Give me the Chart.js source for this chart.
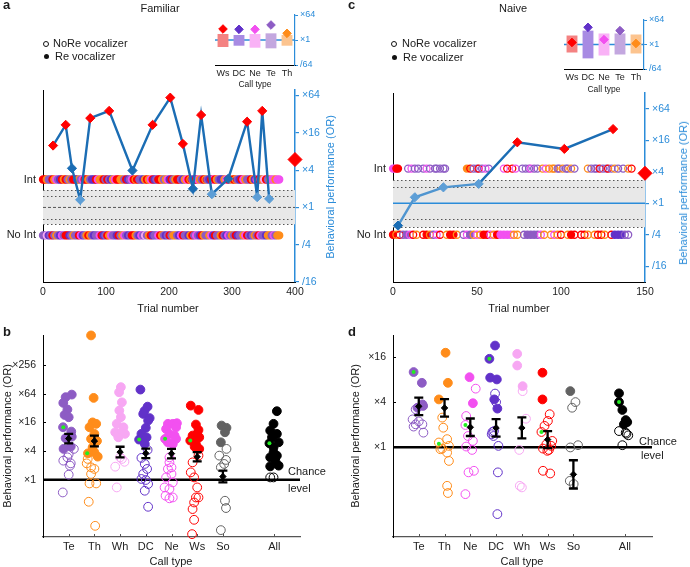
<!DOCTYPE html>
<html><head><meta charset="utf-8">
<script src="https://cdn.jsdelivr.net/npm/chart.js@4"></script>
<style>
body{margin:0;width:690px;height:567px;position:relative;background:#fff;font-family:"Liberation Sans",Arial,Helvetica,sans-serif;color:#1a1a1a;overflow:hidden}
canvas{position:absolute}
.t{position:absolute;white-space:nowrap;font-size:11px;line-height:12px}
.c{transform:translateX(-50%)}
.v{transform:translate(-50%,-50%) rotate(-90deg)}
.L{font-weight:bold;font-size:13px}
.blue{color:#2b8cd9}
.ho{position:absolute;width:4px;height:4px;border:1.2px solid #111;border-radius:50%}
.fi{position:absolute;width:5px;height:5px;background:#111;border-radius:50%}
</style></head><body>
<canvas id="ca" width="345" height="320" style="left:0;top:0"></canvas>
<canvas id="cc" width="345" height="320" style="left:345px;top:0"></canvas>
<canvas id="ia" width="140" height="80" style="left:200px;top:5px"></canvas>
<canvas id="ic" width="140" height="79" style="left:550px;top:10px"></canvas>
<canvas id="cb" width="345" height="247" style="left:0;top:320px"></canvas>
<canvas id="cd" width="345" height="247" style="left:345px;top:320px"></canvas>

<div class="t L" style="left:3px;top:-1px">a</div>
<div class="t c" style="left:160px;top:2px">Familiar</div>
<div class="ho" style="left:43px;top:41px"></div><div class="t" style="left:53px;top:37px">NoRe vocalizer</div>
<div class="fi" style="left:44px;top:54px"></div><div class="t" style="left:55px;top:50px">Re vocalizer</div>
<div class="t c" style="left:255px;top:78px;font-size:8.5px">Call type</div>
<div class="t v blue" style="left:330px;top:187px">Behavioral performance (OR)</div>
<div class="t c" style="left:168px;top:302px">Trial number</div>

<div class="t L" style="left:348px;top:-1px">c</div>
<div class="t c" style="left:513px;top:2px">Naive</div>
<div class="ho" style="left:391px;top:41px"></div><div class="t" style="left:402px;top:37px">NoRe vocalizer</div>
<div class="fi" style="left:392px;top:55px"></div><div class="t" style="left:403px;top:51px">Re vocalizer</div>
<div class="t c" style="left:604px;top:83px;font-size:8.5px">Call type</div>
<div class="t v blue" style="left:683px;top:193px">Behavioral performance (OR)</div>
<div class="t c" style="left:519px;top:302px">Trial number</div>

<div class="t L" style="left:3px;top:326px">b</div>
<div class="t v" style="left:7px;top:436px">Behavioral performance (OR)</div>
<div class="t c" style="left:171px;top:555px">Call type</div>
<div class="t" style="left:288px;top:465px">Chance</div>
<div class="t" style="left:288px;top:482px">level</div>

<div class="t L" style="left:348px;top:326px">d</div>
<div class="t v" style="left:355px;top:436px">Behavioral performance (OR)</div>
<div class="t c" style="left:522px;top:555px">Call type</div>
<div class="t" style="left:639px;top:435px">Chance</div>
<div class="t" style="left:641px;top:449px">level</div>

<script>
// ---------------- DATA ----------------
// Panel a (Familiar): performance (log2 OR) over trials
const aTrials = [16, 36, 46, 59, 75, 105, 142, 174, 202, 222, 238, 251, 268, 294, 324, 340, 348, 359];
const aLogOR  = [3.32, 4.43, 2.1, 0.41, 4.79, 5.18, 1.98, 4.43, 5.89, 3.41, 1.0, 4.96, 0.71, 1.54, 4.6, 0.55, 5.18, 0.46];
const aSig    = ['r','r','b','l','r','r','b','r','r','r','b','r','l','b','r','l','r','l'];
const aFinalLogOR = 2.57;
const aXTicks = [0, 100, 200, 300, 400];
// trial rows: one char per 3 trials; letter = call type colour, upper = Re (filled), lower = NoRe (open)
const aIntDots   = "RROPPROMPDRORPOPRRDOPMRROPDDRMOORPRPDOMRROOPRDPMRoRPPDOROMRDPRROPOMDRPORRPDOMRoPDRMOPRoPDRMROPDDOMRPORoPDRMOPPRODMRPOWRPOMMOMM";
const aNoIntDots = "PPWDPRPOPDMPRRDPOPPRMDPOROPDPPMRDPROMPPDRPOMPDPRROPDMPWPORDPPMROPDPRPOOPDMRPPDORPMPDROPPOMDRPPORPDMPOPRDPPOMRPDPOPRMPPDOOPMPOO";
const aDotStep = 3;

// Panel c (Naive)
const cTrials = [3, 13, 30, 51, 74, 102, 131];
const cLogOR  = [-1.42, 0.38, 1.01, 1.23, 3.87, 3.45, 4.71];
const cSig    = ['b','l','l','l','r','r','r'];
const cFinalLogOR = 1.9;
const cXTicks = [0, 50, 100, 150];
const cIntDots = ["MMRR","     ","p m p"," ","p  p m p  pp p pp","            ","O r p pr p m p ","       ","m r  r m","   ","p p pm p p","  ","o m o oo p","p o pp o p ","      ","o p pp r p pr p o p  p","  ","o r"].join('');
const cIntStep = 1;
const cNoIntDots = "RorpPmro rRopmr oRRo pmPomoRrmoRMMMmoo pPPPpmo omor oRr rro orro rDDDpp ";
const cNoIntStep = 2;

const orTicks = [-4, -2, 0, 2, 4, 6];

// Insets: per call type summary (log2 OR)
const insetCalls = ['Ws','DC','Ne','Te','Th'];
const aInsetLow  = [-1.68, -1.37, -1.85, -2.0, -1.37];
const aInsetHigh = [1.44, 1.2, 1.44, 1.6, 1.2];
const aInsetMid  = [2.64, 2.56, 2.56, 3.6, 1.6];
const cInsetLow  = [-1.96, -3.4, -2.7, -2.45, -2.2];
const cInsetHigh = [2.2, 3.4, 2.7, 2.7, 2.45];
const cInsetMid  = [0.5, 4.2, 1.2, 3.4, 0.25];
const insetTicks = [-6, 0, 6];

// Panel b (Familiar, per call type): [offset within column, log2 OR]
const bCalls = ['Te','Th','Wh','DC','Ne','Ws','So','All'];
const bSlots = [0, 1, 2, 3, 4, 5, 6, 8];
const bTicks = [0, 2, 4, 6, 8];
const bFilled = [
 [[0.12,5.94],[-0.12,5.76],[-0.21,5.36],[-0.05,4.9],[-0.16,4.52],[0,4.36],[-0.22,3.66],[0.1,3.36],[0.12,3.0],[-0.12,2.9],[0.08,2.31],[-0.2,2.15]],
 [[-0.13,10.07],[-0.03,5.71],[-0.07,4.0],[0.07,3.9],[-0.19,3.66],[0,3.2],[-0.13,2.85],[0.1,2.7],[-0.07,2.26],[0,1.91],[-0.25,1.84],[0.13,1.61]],
 [[0.03,6.46],[-0.04,6.1],[0.07,5.4],[-0.03,4.83],[0.03,4.36],[-0.13,3.9],[0.13,3.66],[-0.19,3.31],[0.05,3.3],[0.19,3.2],[-0.07,2.96]],
 [[-0.21,6.29],[0.07,5.1],[-0.05,4.8],[-0.1,4.59],[0.15,4.3],[0.09,4.13],[0,3.62],[-0.17,3.2],[0.03,2.96],[-0.26,2.8],[-0.04,2.5]],
 [[-0.14,3.9],[0.05,3.9],[0.21,3.94],[0.18,3.66],[-0.21,3.54],[-0.08,3.2],[0.12,3.08],[-0.25,2.85],[0.18,2.85],[-0.14,2.61],[0.05,2.49]],
 [[-0.25,5.17],[0.05,4.87],[-0.05,3.85],[0.05,3.47],[0,3.2],[-0.18,3.08],[0.08,2.96],[-0.27,2.73],[-0.05,2.5],[-0.1,2.3],[0.08,2.15]],
 [[-0.05,3.78],[0.14,3.62],[0.08,3.31],[-0.08,2.61]],
 [[0.1,4.78],[-0.03,3.9],[-0.16,3.43],[0.1,3.2],[-0.09,2.96],[0.17,2.61],[-0.19,2.54],[-0.03,2.26],[-0.03,1.91],[0.1,1.68],[-0.16,1.56],[0.04,1.33],[0.17,0.98],[-0.16,0.93]]
];
const bHollow = [
 [[0,1.8],[0.2,2.15],[-0.05,1.56],[-0.21,1.33],[0.08,1.14],[0.05,0.98],[0,0.35],[-0.23,-0.89]],
 [[-0.26,1.45],[-0.3,1.14],[-0.13,0.86],[0,0.75],[-0.13,0.4],[-0.19,-0.26],[0.07,-0.26],[-0.22,-1.54],[0.03,-3.22]],
 [[0,1.56],[0.07,1.45],[0.17,1.25],[-0.19,0.91],[-0.13,-0.54]],
 [[0.07,2.08],[-0.17,1.52],[-0.04,1.1],[0.05,0.75],[-0.1,0.4],[-0.17,0.05],[0,-0.02],[0.09,-0.3],[-0.04,-0.77],[0.09,-1.89]],
 [[-0.08,1.56],[-0.08,1.21],[0,0.86],[-0.14,0.75],[0,0.4],[-0.21,0.16],[0.05,-0.19],[-0.27,-0.54],[-0.08,-0.65],[-0.23,-1.12],[0.05,-1.24],[-0.08,-1.3]],
 [[0.05,1.68],[-0.18,1.21],[-0.25,0.51],[-0.12,0.16],[0,-0.54],[-0.05,-1.24],[0.05,-1.24],[-0.12,-1.59],[-0.18,-2.05],[-0.12,-2.8],[-0.2,-3.8]],
 [[0.14,2.15],[-0.14,1.68],[0.12,1.38],[0.05,1.1],[-0.08,0.86],[0.08,-1.47],[0.12,-1.98],[-0.08,-3.52]],
 [[-0.16,0.16],[-0.03,0.16]]
];
const bGreen = [[-0.21,3.66],[-0.28,1.84],null,[-0.26,2.8],[-0.25,2.85],[-0.27,2.73],null,[-0.19,2.54]];
const bMean  = [2.87, 2.7, 1.93, 1.84, 1.82, 1.6, 0.22, null];
const bErr   = [0.33, 0.37, 0.37, 0.33, 0.33, 0.32, 0.41, null];

// Panel d (Naive, per call type)
const dCalls = ['Te','Th','Ne','DC','Wh','Ws','So','All'];
const dSlots = [0, 1, 2, 3, 4, 5, 6, 8];
const dTicks = [0, 2, 4];
const dFilled = [
 [[-0.2,3.35],[0.12,2.87],[0.14,1.91],[0.17,1.84],[-0.05,1.76]],
 [[0.04,4.21],[0.13,2.87],[-0.22,2.13]],
 [[-0.03,3.12],[0.1,1.96]],
 [[-0.04,4.53],[-0.26,3.94],[-0.23,3.1],[0.03,3.02],[-0.07,2.13],[0.05,1.72]],
 [[-0.18,4.16],[-0.18,3.64],[0.03,2.72]],
 [[-0.2,3.32],[-0.2,2.13]],
 [[-0.12,2.5]],
 [[-0.23,2.4],[-0.23,2.01],[-0.1,1.66],[0.03,1.21],[0.09,1.12],[-0.04,1.02]]
];
const dHollow = [
 [[-0.12,1.69],[0,1.15],[-0.24,1.24],[-0.12,1.02],[0.14,1.02],[-0.2,0.92],[0.18,0.65]],
 [[-0.09,1.32],[-0.05,0.87],[0.1,0.36],[-0.22,0.21],[0.17,0.06],[-0.09,-0.06],[-0.16,-0.09],[0.1,-0.24],[0.17,-0.61],[0.1,-1.72],[0.13,-2.04]],
 [[0.21,2.61],[-0.16,1.39],[-0.19,0.99],[-0.09,0.5],[0.1,0.28],[-0.16,0.03],[0.07,-0.12],[0.14,-1.05],[-0.07,-1.12],[-0.19,-2.09]],
 [[-0.04,2.39],[0,2.01],[-0.08,0.72],[-0.14,0.68],[-0.17,0.58],[-0.1,0.5],[0.09,0.06],[0.07,-1.12],[0.05,-2.98]],
 [[0.03,2.5],[0.16,1.27],[-0.1,-0.12],[-0.08,-1.72],[0,-1.79]],
 [[0.08,1.47],[0.01,1.17],[-0.12,0.95],[-0.24,0.68],[0.18,0.28],[-0.05,0.13],[0.14,0.06],[-0.18,-0.06],[0.05,-0.12],[-0.01,-0.16],[-0.18,-1.05],[0.1,-1.17]],
 [[0.08,2.01],[-0.05,1.76],[0.18,0.09],[-0.12,-0.01],[-0.14,-1.5],[0.01,-1.64]],
 [[-0.23,0.72],[0.03,0.65],[0.13,0.53],[0.06,0.6],[-0.1,0.09]]
];
const dGreen = [[-0.2,3.35],[-0.22,0.16],[-0.19,0.99],[-0.26,3.94],null,[-0.24,0.68],null,[-0.23,2.01]];
const dMean  = [1.82, 1.75, 0.89, 0.86, 0.86, 0.34, -1.21, null];
const dErr   = [0.39, 0.39, 0.39, 0.39, 0.47, 0.38, 0.63, null];

// ---------------- STYLE ----------------
const FONT = '"Liberation Sans", Arial, Helvetica, sans-serif';
const callColors = {r:'#ff0000', o:'#ff8c1a', p:'#8d5cc4', d:'#6131c9', m:'#f250f0', w:'#f7a7f3', s:'#626262', k:'#000000'};
const callCode = {Te:'p', Th:'o', Wh:'w', DC:'d', Ne:'m', Ws:'r', So:'s', All:'k'};
const insetBarColors = {Ws:'#f48282', DC:'#a88be3', Ne:'#f9b2f6', Te:'#c3a7df', Th:'#fcc48f'};
const sigColor = {r:'#ff0000', b:'#1b6db4', l:'#5d9ed6'};
const DARK = '#1b6db4', LIGHT = '#4f95d0', BLUE = '#2b8cd9';
const CLEAR = 'rgba(255,255,255,0)';

Chart.defaults.font.family = FONT;
Chart.defaults.animation = false;
Chart.defaults.responsive = false;
Chart.defaults.events = [];
Chart.defaults.plugins.legend.display = false;
Chart.defaults.plugins.tooltip.enabled = false;

const fmtOR = v => v >= 0 ? '×' + Math.round(Math.pow(2, v)) : '/' + Math.round(Math.pow(2, -v));
const setTicks = vals => s => { s.ticks = vals.map(v => ({value: v})); };

function hlinePlugin(axis, value, color, width, dash){
  return {id:'hl'+Math.random().toString(36).slice(2), beforeDatasetsDraw(ch){
    const {ctx, chartArea:a} = ch; const y = ch.scales[axis].getPixelForValue(value);
    ctx.save(); ctx.strokeStyle = color; ctx.lineWidth = width; ctx.setLineDash(dash || []);
    ctx.beginPath(); ctx.moveTo(a.left, y); ctx.lineTo(a.right, y); ctx.stroke(); ctx.restore();
  }};
}

// small inward tick marks on the left and bottom axes
const inTicksPlugin = {id:'inticks', afterDraw(ch){
  const {ctx, chartArea:a} = ch, X = ch.scales.x, Y = ch.scales.y;
  ctx.save(); ctx.lineWidth = 1;
  ctx.strokeStyle = '#000';
  Y.ticks.forEach(t => { const y = Math.round(Y.getPixelForValue(t.value)) + 0.5; ctx.beginPath(); ctx.moveTo(a.left, y); ctx.lineTo(a.left + 3, y); ctx.stroke(); });
  ctx.strokeStyle = '#555';
  X.ticks.forEach(t => { const x = Math.round(X.getPixelForValue(t.value)) + 0.5; ctx.beginPath(); ctx.moveTo(x, a.bottom); ctx.lineTo(x, a.bottom - 3); ctx.stroke(); });
  ctx.restore(); }};

function bandPlugin(fill, dotted){
  return {id:'band'+Math.random().toString(36).slice(2), beforeDatasetsDraw(ch){
    const {ctx, chartArea:a} = ch; const y = ch.scales.yr;
    const y1 = y.getPixelForValue(fill[1]), y0 = y.getPixelForValue(fill[0]);
    ctx.save(); ctx.fillStyle = '#e8e8e8'; ctx.fillRect(a.left, y1, a.right - a.left, y0 - y1);
    ctx.strokeStyle = '#555'; ctx.lineWidth = 1; ctx.setLineDash([1.5, 2.5]);
    dotted.forEach(v => { const p = Math.round(y.getPixelForValue(v)) + 0.5; ctx.beginPath(); ctx.moveTo(a.left, p); ctx.lineTo(a.right, p); ctx.stroke(); });
    ctx.restore();
  }};
}

function buildMain(id, c){
  const row = (str, step, yv) => { const pts=[], bg=[], bc=[];
    [...str].forEach((ch, i) => { if (ch === ' ') return; const k = ch.toLowerCase();
      pts.push({x: i*step, y: yv}); bc.push(callColors[k]); bg.push(ch === k ? CLEAR : callColors[k]); });
    return {pts, bg, bc}; };
  const ri = row(c.intDots, c.intStep, c.rowY[0]), rn = row(c.noDots, c.noStep, c.rowY[1]);
  const rowDs = r => ({data:r.pts, showLine:false, pointRadius:3.5, pointBackgroundColor:r.bg, pointBorderColor:r.bc, pointBorderWidth:1.3, clip:false, order:3, yAxisID:'yr'});
  new Chart(document.getElementById(id), {type:'scatter',
    data:{datasets:[
      {data:c.trials.map((t,i)=>({x:t, y:c.logOR[i]})), showLine:true, borderColor:DARK, borderWidth:2.4,
       segment:{borderColor: s => (c.lightSeg && c.sig[s.p1DataIndex] === 'l') ? LIGHT : DARK},
       pointStyle:'rectRot', pointRadius:4.6, pointBackgroundColor:c.sig.map(s=>sigColor[s]), pointBorderColor:c.sig.map(s=>sigColor[s]), pointBorderWidth:1, clip:false, order:1, yAxisID:'yr'},
      {data:[{x:c.xMax, y:c.final}], pointStyle:'rectRot', pointRadius:7, pointBackgroundColor:'#ff0000', pointBorderColor:'#ff0000', clip:false, order:0, yAxisID:'yr'},
      rowDs(ri), rowDs(rn)
    ]},
    options:{
      layout:{padding:{left:0, right:0, top:c.top, bottom:8}},
      scales:{
        x:{type:'linear', position:'bottom', min:0, max:c.xMax, afterBuildTicks:setTicks(c.xTicks),
           ticks:{font:{size:10.5}, color:'#222', padding:4, maxRotation:0, autoSkip:false},
           grid:{display:false, drawTicks:false}, border:{color:'#000', width:1}, afterFit:s=>{s.height=30;}},
        yl:{type:'linear', position:'left', min:c.yMin, max:c.yMax, afterBuildTicks:setTicks(c.rowY),
           ticks:{font:{size:11}, color:'#222', padding:7, callback:v => v > 0 ? 'Int' : 'No Int'},
           grid:{display:false, drawTicks:false}, border:{color:'#000', width:1}, afterFit:s=>{s.width=c.leftW;}},
        yr:{type:'linear', position:'right', min:c.yMin, max:c.yMax, afterBuildTicks:setTicks(orTicks),
           ticks:{font:{size:10.5}, color:BLUE, padding:3, callback:fmtOR},
           grid:{display:true, drawOnChartArea:false, drawTicks:true, tickLength:4, color:BLUE, lineWidth:1.2},
           border:{color:BLUE, width:1.5}, afterFit:s=>{s.width=c.rightW;}}
      }
    },
    plugins:[bandPlugin(c.band, c.dotted), hlinePlugin('yr', 0, c.centerColor, c.centerWidth, c.centerDash)]
  });
}

function buildInset(id, low, high, mid, padLeft){
  const cols = insetCalls.map(k => callColors[callCode[k]]);
  new Chart(document.getElementById(id), {type:'bar',
    data:{labels:insetCalls, datasets:[
      {type:'line', data:mid, showLine:false, pointStyle:'rectRot', pointRadius:4.3, pointBackgroundColor:cols, pointBorderColor:cols, order:0},
      {type:'bar', data:low.map((l,i)=>[l, high[i]]), backgroundColor:insetCalls.map(k=>insetBarColors[k]), borderWidth:0, barPercentage:0.68, categoryPercentage:1, order:1}
    ]},
    options:{
      layout:{padding:{left:padLeft, top:10, right:0, bottom:0}},
      scales:{
        x:{grid:{display:false, drawTicks:false}, border:{color:'#000', width:1}, ticks:{font:{size:9}, color:'#222', padding:3, maxRotation:0}, afterFit:s=>{s.height=20;}},
        y:{position:'right', min:-6, max:6, afterBuildTicks:setTicks(insetTicks),
           ticks:{font:{size:9}, color:BLUE, padding:2, callback:fmtOR},
           grid:{display:true, drawOnChartArea:false, drawTicks:true, tickLength:3, color:BLUE},
           border:{color:BLUE, width:1.2}, afterFit:s=>{s.width=id==='ia'?45:46;}}
      }
    },
    plugins:[hlinePlugin('y', 0, BLUE, 1.5)]
  });
}

function buildCat(id, c){
  const hol=[], holC=[], fil=[], filC=[], grn=[], mean=[], bars=[];
  c.calls.forEach((k, i) => {
    const col = callColors[callCode[k]], s = c.slots[i];
    c.hollow[i].forEach(([dx,v]) => { hol.push({x:s+dx, y:v}); holC.push(col); });
    c.filled[i].forEach(([dx,v]) => { fil.push({x:s+dx, y:v}); filC.push(col); });
    if (c.green[i]) grn.push({x:s+c.green[i][0], y:c.green[i][1]});
    if (c.mean[i] !== null) { mean.push({x:s, y:c.mean[i]}); bars.push([s, c.mean[i], c.err[i]]); }
  });
  const errPlugin = {id:'err'+id, afterDatasetsDraw(ch){
    const {ctx} = ch, X = ch.scales.x, Y = ch.scales.y;
    ctx.save(); ctx.strokeStyle = '#000'; ctx.lineWidth = 2.3;
    bars.forEach(([s, m, e]) => { const x = X.getPixelForValue(s), y0 = Y.getPixelForValue(m-e), y1 = Y.getPixelForValue(m+e);
      ctx.beginPath(); ctx.moveTo(x, y0); ctx.lineTo(x, y1);
      ctx.moveTo(x-4.5, y0); ctx.lineTo(x+4.5, y0); ctx.moveTo(x-4.5, y1); ctx.lineTo(x+4.5, y1); ctx.stroke(); });
    ctx.restore(); }};
  new Chart(document.getElementById(id), {type:'scatter',
    data:{datasets:[
      {data:mean, pointStyle:'rectRot', pointRadius:3.2, pointBackgroundColor:'#000', pointBorderColor:'#000', order:0},
      {data:grn, pointRadius:2, pointBackgroundColor:'#22ee22', pointBorderColor:'#22ee22', pointBorderWidth:0, clip:false, order:1},
      {data:fil, pointRadius:4.4, pointBackgroundColor:filC, pointBorderColor:filC, pointBorderWidth:1, clip:false, order:2},
      {data:hol, pointRadius:4.4, pointBackgroundColor:CLEAR, pointBorderColor:holC, pointBorderWidth:1, clip:false, order:3}
    ]},
    options:{
      layout:{padding:{left:0, right:c.padRight, top:15, bottom:10}},
      scales:{
        x:{type:'linear', min:-1, max:c.xMax, afterBuildTicks:setTicks(c.slots),
           ticks:{callback:v => c.calls[c.slots.indexOf(v)], font:{size:11}, color:'#222', padding:3, maxRotation:0, autoSkip:false},
           grid:{display:false, drawTicks:false}, border:{color:'#555', width:1.2}, afterFit:s=>{s.height=20;}},
        y:{type:'linear', min:-4, max:c.yMax, afterBuildTicks:setTicks(c.ticks),
           ticks:{callback:fmtOR, font:{size:10.5}, color:'#222', padding:7},
           grid:{display:false, drawTicks:false}, border:{color:'#000', width:1}, afterFit:s=>{s.width=c.leftW;}}
      }
    },
    plugins:[hlinePlugin('y', 0, '#000', 2.5), errPlugin, inTicksPlugin]
  });
}

buildMain('ca', {trials:aTrials, logOR:aLogOR, sig:aSig, final:aFinalLogOR, xMax:400, xTicks:aXTicks,
  intDots:aIntDots, intStep:aDotStep, noDots:aNoIntDots, noStep:aDotStep, rowY:[1.5,-1.5],
  yMin:-4, yMax:6.3, top:90, leftW:43, rightW:50, band:[-0.9,0.93], dotted:[0.93,0.64,-0.64,-0.88],
  centerColor:'#555', centerWidth:1, centerDash:[3,2], lightSeg:false});
buildMain('cc', {trials:cTrials, logOR:cLogOR, sig:cSig, final:cFinalLogOR, xMax:150, xTicks:cXTicks,
  intDots:cIntDots, intStep:cIntStep, noDots:cNoIntDots, noStep:cNoIntStep, rowY:[2.2,-2.0],
  yMin:-5, yMax:7, top:93, leftW:48, rightW:45, band:[-1.52,1.46], dotted:[1.46,1.02,-1.02,-1.52],
  centerColor:BLUE, centerWidth:1.3, centerDash:[], lightSeg:true});
buildInset('ia', aInsetLow, aInsetHigh, aInsetMid, 15);
buildInset('ic', cInsetLow, cInsetHigh, cInsetMid, 14);
buildCat('cb', {calls:bCalls, slots:bSlots, filled:bFilled, hollow:bHollow, green:bGreen, mean:bMean, err:bErr,
  ticks:bTicks, yMax:10.1, xMax:9, leftW:43, padRight:45});
buildCat('cd', {calls:dCalls, slots:dSlots, filled:dFilled, hollow:dHollow, green:dGreen, mean:dMean, err:dErr,
  ticks:dTicks, yMax:5, xMax:9.05, leftW:48, padRight:38});
</script>
</body></html>
